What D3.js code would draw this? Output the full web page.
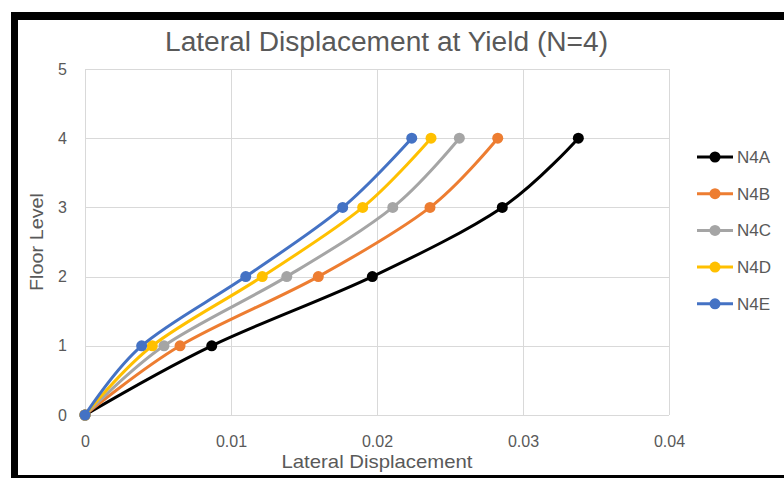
<!DOCTYPE html>
<html>
<head>
<meta charset="utf-8">
<script src="https://cdn.jsdelivr.net/npm/d3@7/dist/d3.min.js"></script>
<style>
  html, body { margin: 0; padding: 0; background: #fff; }
  svg { display: block; }
  text { font-family: "Liberation Sans Narrow", "Liberation Sans", Arial, sans-serif; fill: #595959; }
</style>
</head>
<body>
<svg id="chart" width="784" height="478"></svg>
<script>
// Floor levels (y values shared by every series)
const floors = [0, 1, 2, 3, 4];

// Lateral displacement at yield, one array per specimen
const seriesNames = ["N4A", "N4B", "N4C", "N4D", "N4E"];
const n4a = [0, 0.00868, 0.01968, 0.02858, 0.03379];
const n4b = [0, 0.00651, 0.01598, 0.02363, 0.02827];
const n4c = [0, 0.00541, 0.01382, 0.02108, 0.02564];
const n4d = [0, 0.00461, 0.01214, 0.01902, 0.02370];
const n4e = [0, 0.00388, 0.01101, 0.01765, 0.02238];
const seriesColors = ["#000000", "#ED7D31", "#A5A5A5", "#FFC000", "#4472C4"];

// Axis ticks
const xTicks = [0, 0.01, 0.02, 0.03, 0.04];
const xTickLabels = ["0", "0.01", "0.02", "0.03", "0.04"];
const yTicks = [0, 1, 2, 3, 4, 5];

const titleText = "Lateral Displacement at Yield (N=4)";
const xTitle = "Lateral Displacement";
const yTitle = "Floor Level";

const svg = d3.select("#chart");

// Outer chart frame
svg.append("rect").attr("x", 0).attr("y", 0).attr("width", 784).attr("height", 478).attr("fill", "#fff");
svg.append("rect").attr("x", 11).attr("y", 12).attr("width", 773).attr("height", 8).attr("fill", "#000");
svg.append("rect").attr("x", 11).attr("y", 12).attr("width", 7).attr("height", 466).attr("fill", "#000");
svg.append("rect").attr("x", 11).attr("y", 475).attr("width", 773).attr("height", 3).attr("fill", "#000");

const x = d3.scaleLinear().domain([0, 0.04]).range([85, 669]);
const y = d3.scaleLinear().domain([0, 5]).range([415, 69]);

// Gridlines
const grid = svg.append("g");
grid.selectAll("line.v").data(xTicks).join("line")
  .attr("x1", d => Math.round(x(d)) + 0.5).attr("x2", d => Math.round(x(d)) + 0.5)
  .attr("y1", y(5)).attr("y2", y(0))
  .attr("stroke", "#D9D9D9").attr("stroke-width", 1);
grid.selectAll("line.h").data(yTicks).join("line")
  .attr("y1", d => Math.round(y(d)) + 0.5).attr("y2", d => Math.round(y(d)) + 0.5)
  .attr("x1", x(0)).attr("x2", x(0.04))
  .attr("stroke", "#D9D9D9").attr("stroke-width", 1);

// Tick labels through d3 axes (domain and tick lines hidden)
const xAxis = svg.append("g").attr("transform", `translate(0,${y(0)})`)
  .call(d3.axisBottom(x).tickValues(xTicks).tickFormat((d, i) => xTickLabels[i]).tickSize(0).tickPadding(21));
xAxis.select(".domain").remove();
xAxis.selectAll("text").attr("font-size", 16).attr("fill", "#595959")
  .style("font-family", "'Liberation Sans', Arial, sans-serif");

const yAxis = svg.append("g").attr("transform", `translate(${x(0)},0)`)
  .call(d3.axisLeft(y).tickValues(yTicks).tickFormat(d3.format("d")).tickSize(0).tickPadding(18));
yAxis.select(".domain").remove();
yAxis.selectAll("text").attr("font-size", 16).attr("fill", "#595959")
  .style("font-family", "'Liberation Sans', Arial, sans-serif");

// Series lines with smoothed curves
const allSeries = [n4a, n4b, n4c, n4d, n4e];
const line = d3.line()
  .x(d => x(d[0])).y(d => y(d[1]))
  .curve(d3.curveCardinal.tension(0));

allSeries.forEach((vals, i) => {
  const pts = vals.map((v, k) => [v, floors[k]]);
  const g = svg.append("g");
  g.append("path").datum(pts).attr("d", line)
    .attr("fill", "none").attr("stroke", seriesColors[i]).attr("stroke-width", 3)
    .attr("stroke-linejoin", "round").attr("stroke-linecap", "round");
  g.selectAll("circle").data(pts).join("circle")
    .attr("cx", d => x(d[0])).attr("cy", d => y(d[1])).attr("r", 5.5)
    .attr("fill", seriesColors[i]);
});

// Title
svg.append("text").attr("x", 386.5).attr("y", 51).attr("text-anchor", "middle")
  .attr("font-size", 27).attr("textLength", 443).attr("lengthAdjust", "spacingAndGlyphs")
  .text(titleText);

// Axis titles
svg.append("text").attr("x", x(0.02)).attr("y", 468).attr("text-anchor", "middle")
  .attr("font-size", 19).attr("textLength", 191).attr("lengthAdjust", "spacingAndGlyphs")
  .text(xTitle);
svg.append("text").attr("transform", `translate(43,242) rotate(-90)`).attr("text-anchor", "middle")
  .attr("font-size", 19).attr("textLength", 98).attr("lengthAdjust", "spacingAndGlyphs")
  .text(yTitle);

// Legend
const legend = svg.append("g");
seriesNames.forEach((name, i) => {
  const cy = 157 + 36.7 * i;
  legend.append("line").attr("x1", 697).attr("x2", 733).attr("y1", cy).attr("y2", cy)
    .attr("stroke", seriesColors[i]).attr("stroke-width", 3);
  legend.append("circle").attr("cx", 715).attr("cy", cy).attr("r", 5.5).attr("fill", seriesColors[i]);
  legend.append("text").attr("x", 737).attr("y", cy + 6).attr("font-size", 17)
    .style("font-family", "'Liberation Sans', Arial, sans-serif")
    .text(name);
});
</script>
</body>
</html>
